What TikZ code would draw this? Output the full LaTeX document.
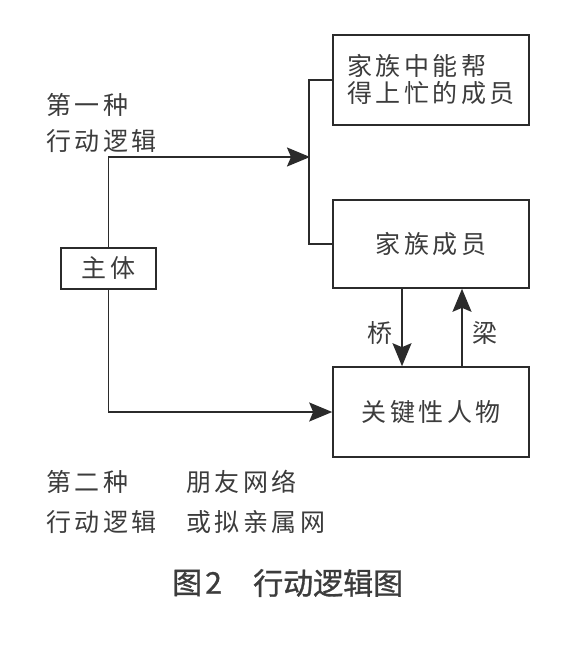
\documentclass[tikz,border=0pt]{standalone}
\usepackage{fontspec}
\newfontfamily\cjk[LetterSpace=14]{Noto Sans CJK SC}
\newfontfamily\cjkcap[FakeBold=1]{Noto Sans CJK SC}
\usetikzlibrary{arrows.meta}
\definecolor{linec}{HTML}{2B2B2B}
\definecolor{textc}{HTML}{3C3C3C}
\begin{document}
\begin{tikzpicture}[x=1pt,y=-1pt,
  ln/.style={draw=linec, line width=1.6pt},
  arr/.style={ln, -{Stealth[length=23pt,width=19pt,inset=4pt]}},
  box/.style={draw=linec, line width=1.6pt, minimum width=196pt, inner sep=0pt,
    text=textc, font={\cjk\fontsize{25}{27}\selectfont}, align=left},
  lbl/.style={inner sep=0pt, text=textc, font={\cjk\fontsize{25}{27}\selectfont}, anchor=west},
  capt/.style={inner sep=0pt, text=textc, font={\cjkcap\fontsize{30}{33}\selectfont}, anchor=west}]
\useasboundingbox[fill=white] (0,0) rectangle (570,647);

\node[box, minimum height=90pt] (top) at (431,80) {家族中能帮\\得上忙的成员};
\node[box, minimum height=88pt] (mid) at (431,244) {家族成员};
\node[box, minimum height=90pt] (bot) at (431,412) {关键性人物};
\node[box, minimum width=95pt, minimum height=41pt] (zt) at (108.5,268.5) {主体};

\coordinate (br) at (310,157);
\draw[ln] (top.west) -- ++(-23,0) |- (mid.west);
\draw[arr] (zt.north) |- (br);
\draw[arr] (zt.south) |- (bot.west);
\draw[arr] ([xshift=-29pt]mid.south) -- ([xshift=-29pt]bot.north);
\draw[arr] ([xshift=31pt]bot.north) -- ([xshift=31pt]mid.south);

\node[lbl, anchor=center] (qiao) at (380,333) {桥};
\node[lbl, anchor=center] (liang) at (485,333) {梁};

\node[lbl] (l1a) at (46,105) {第一种};
\node[lbl] (l1b) at (46,141) {行动逻辑};
\node[lbl] (l2a) at (46,482) {第二种};
\node[lbl] (l2b) at (46,522) {行动逻辑};
\node[lbl] (l3a) at (186,482) {朋友网络};
\node[lbl] (l3b) at (186,522) {或拟亲属网};

\node[capt] (capa) at (172,583) {图\hspace{3pt}2};
\node[capt] (capb) at (253,583) {行动逻辑图};
\end{tikzpicture}
\end{document}
